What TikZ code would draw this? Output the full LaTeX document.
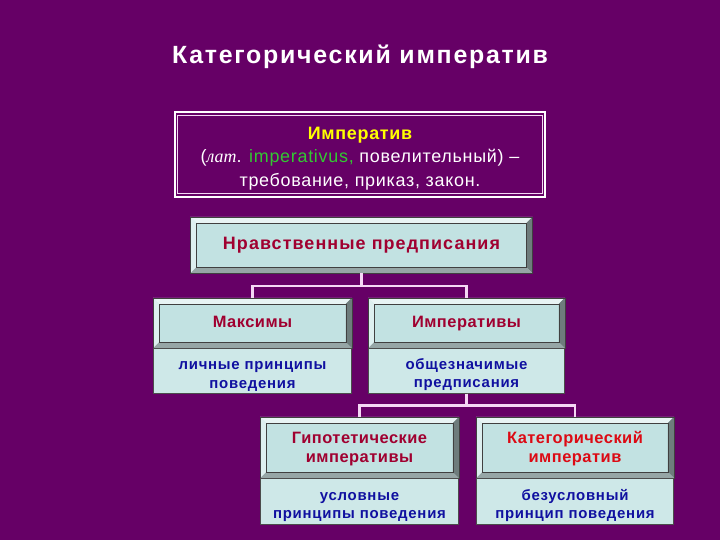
\documentclass[tikz,border=0pt]{standalone}
\usepackage{fontspec}
\setmainfont{Liberation Sans}
\newfontfamily\serifit{Liberation Serif}
\usepackage{xcolor}
\usetikzlibrary{calc, positioning}

\definecolor{fon}{RGB}{102,0,102}
\definecolor{lice}{RGB}{194,226,226}
\definecolor{svet}{RGB}{232,244,244}
\definecolor{ten}{RGB}{110,124,124}
\definecolor{niz}{RGB}{150,166,166}
\definecolor{krasn}{RGB}{160,0,48}
\definecolor{alyj}{RGB}{220,10,20}
\definecolor{sinij}{RGB}{16,16,160}
\definecolor{liniya}{RGB}{245,215,245}
\definecolor{zhelt}{RGB}{255,255,0}
\definecolor{zelen}{RGB}{50,200,50}

% рамка с фаской вокруг узла
\newcommand{\bevel}[1]{%
  \fill[svet] (#1.north west) -- (#1.north east) -- ($(#1.north east)+(-6,6)$) -- ($(#1.north west)+(6,6)$) -- cycle;
  \fill[svet!70!lice] (#1.north west) -- ($(#1.north west)+(6,6)$) -- ($(#1.south west)+(6,-6)$) -- (#1.south west) -- cycle;
  \fill[ten] (#1.north east) -- (#1.south east) -- ($(#1.south east)+(-6,-6)$) -- ($(#1.north east)+(-6,6)$) -- cycle;
  \fill[niz] (#1.south west) -- ($(#1.south west)+(6,-6)$) -- ($(#1.south east)+(-6,-6)$) -- (#1.south east) -- cycle;
  \draw[black!75, line width=0.6] (#1.north west) rectangle (#1.south east);
  \draw[black!75, line width=0.6] ($(#1.north west)+(6,6)$) rectangle ($(#1.south east)+(-6,-6)$);
}
% подпорка для сдвига текста вниз
\newcommand{\podp}{\rule{0pt}{19pt}}

\begin{document}
\begin{tikzpicture}[x=1bp, y=-1bp,
    hdr/.style={fill=lice, text=krasn, align=center, inner sep=0pt,
      font=\bfseries\fontsize{16.5}{19}\selectfont\addfontfeatures{LetterSpace=3}},
    sub/.style={fill=lice!80!white, draw=black!70, line width=0.6, text=sinij,
      align=center, inner sep=0pt, font=\bfseries\fontsize{15}{18.5}\selectfont\addfontfeatures{LetterSpace=5}},
    lin/.style={draw=liniya, line width=2.2}]
    % Фон
    \fill[fon] (0,0) rectangle (720,540);
    \useasboundingbox (0,0) rectangle (720,540);

    % Заголовок
    \node[text=white, font=\bfseries\fontsize{25}{28}\selectfont\addfontfeatures{LetterSpace=7}] (title) at (360,57) {Категорический императив};

    % Определение
    \node[draw=white, line width=1.8, minimum width=372, minimum height=85, align=center,
      text=white, font=\fontsize{18}{23.5}\selectfont\addfontfeatures{LetterSpace=4}] (def) at (360,154.5)
      {\rule{0pt}{20pt}{\color{zhelt}\bfseries Императив}\\
       ({\serifit\itshape лат}. {\color{zelen}imperativus,} повелительный) --\\
       требование, приказ, закон.};
    \draw[liniya, line width=1] ($(def.north west)+(4,4)$) rectangle ($(def.south east)+(-4,-4)$);

    % Уровень 1
    \node[hdr, minimum width=343, minimum height=56, font=\bfseries\fontsize{18}{20}\selectfont\addfontfeatures{LetterSpace=6}] (moral) at (361.5,245) {Нравственные предписания};
    \bevel{moral}

    % Уровень 2
    \node[hdr, minimum width=199, minimum height=50, text height=12pt, text depth=2pt] (maxim) at (252.5,323) {Максимы};
    \bevel{maxim}
    \node[sub, minimum width=199, minimum height=45, below=0pt of maxim] (maximsub) {\podp личные принципы\\поведения};
    \node[hdr, minimum width=197, minimum height=50, text height=12pt, text depth=2pt] (imper) at (466.5,323) {Императивы};
    \bevel{imper}
    \node[sub, minimum width=197, minimum height=45, below=0pt of imper] (impersub) {\podp общезначимые\\предписания};

    % Уровень 3
    \node[hdr, minimum width=199, minimum height=61] (hypo) at (359.5,447.5) {\rule{0pt}{15pt}Гипотетические\\императивы};
    \bevel{hypo}
    \node[sub, minimum width=199, minimum height=46, below=0pt of hypo] (hyposub) {\podp условные\\принципы поведения};
    \node[hdr, text=alyj, minimum width=198, minimum height=61] (categ) at (575,447.5) {\rule{0pt}{15pt}Категорический\\императив};
    \bevel{categ}
    \node[sub, minimum width=198, minimum height=46, below=0pt of categ] (categsub) {\podp безусловный\\принцип поведения};

    % Соединительные линии
    \draw[lin] (moral.south) -- ++(0,13) -| (maxim.north);
    \draw[lin] (moral.south) -- ++(0,13) -| (imper.north);
    \draw[lin] (impersub.south) -- ++(0,12) -| (hypo.north);
    \draw[lin] (impersub.south) -- ++(0,12) -| (categ.north);
\end{tikzpicture}
\end{document}
